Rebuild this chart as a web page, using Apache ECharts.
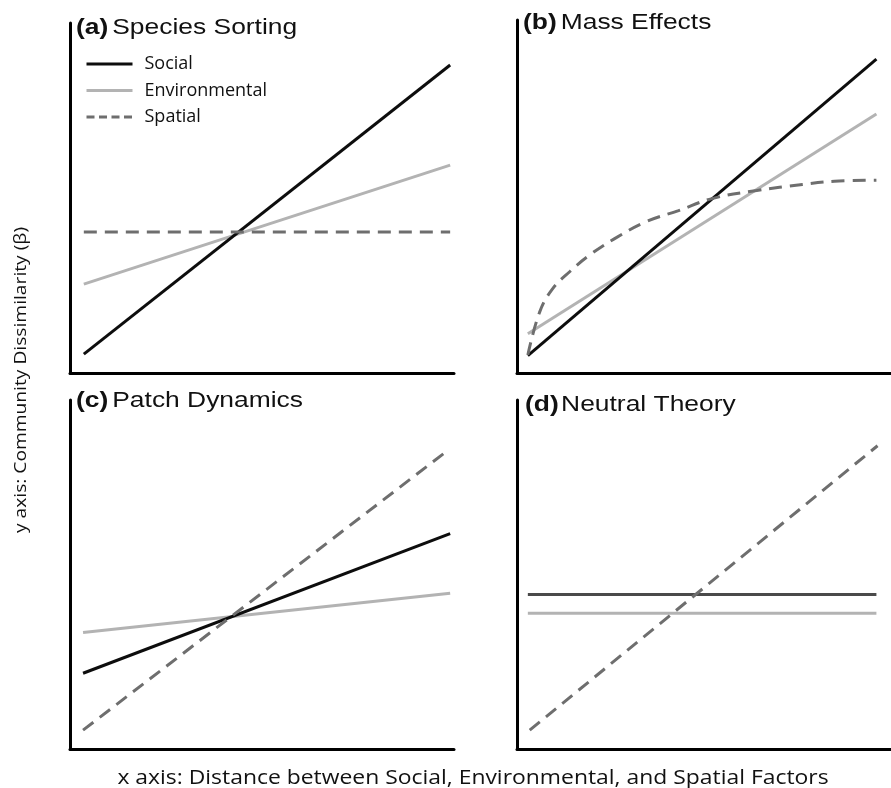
<!DOCTYPE html>
<html>
<head>
<meta charset="utf-8">
<script src="https://cdn.jsdelivr.net/npm/echarts@6/dist/echarts.min.js"></script>
<style>html,body{margin:0;padding:0;background:#fff;}#chart{width:891px;height:788px;}</style>
</head>
<body>
<div id="chart"></div>
<script>
// ---- data (x: distance, y: dissimilarity; both on a 0-10 conceptual scale) ----
const seriesNames = ['Social', 'Environmental', 'Spatial'];
const panelLabels = ['(a)', '(b)', '(c)', '(d)'];
const panelTitles = ['Species Sorting', 'Mass Effects', 'Patch Dynamics', 'Neutral Theory'];
const xAxisTitle = 'x axis: Distance between Social, Environmental, and Spatial Factors';
const yAxisTitle = 'y axis: Community Dissimilarity (\u03b2)';

const socialA = [[0.36, 0.54], [9.9, 8.8]];
const environmentalA = [[0.36, 2.54], [9.9, 5.94]];
const spatialA = [[0.36, 4.03], [9.9, 4.03]];

const socialB = [[0.29, 0.49], [9.61, 8.89]];
const environmentalB = [[0.29, 1.11], [9.61, 7.34]];
const spatialB = [[0.29, 0.51], [0.6, 1.71], [0.94, 2.37], [1.43, 2.89], [1.9, 3.31], [2.6, 3.8],
                  [3.46, 4.29], [4.32, 4.6], [5.21, 4.94], [6.41, 5.17], [7.63, 5.34], [8.49, 5.43], [9.61, 5.46]];

const socialC = [[0.34, 2.17], [9.9, 6.17]];
const environmentalC = [[0.34, 3.34], [9.9, 4.46]];
const spatialC = [[0.34, 0.54], [9.82, 8.54]];

const socialD = [[0.29, 4.43], [9.61, 4.43]];
const environmentalD = [[0.29, 3.89], [9.61, 3.89]];
const spatialD = [[0.34, 0.54], [9.64, 8.69]];

// ---- layout / style ----
const grids = [
  {left: 70, top: 23, width: 384, height: 350},
  {left: 517, top: 20, width: 384, height: 353},
  {left: 70, top: 400, width: 384, height: 349},
  {left: 517, top: 400, width: 384, height: 349}
];
const titlePos = [[76, 28], [523, 23], [76, 401], [525, 405]];
const cSocial = '#0d0d0d', cEnv = '#b3b3b3', cSpatial = '#6e6e6e';

const panels = [
  [socialA, environmentalA, spatialA, cSocial],
  [socialB, environmentalB, spatialB, cSocial],
  [socialC, environmentalC, spatialC, cSocial],
  [socialD, environmentalD, spatialD, '#4a4a4a']
];

const axisCommon = {
  type: 'value', min: 0, max: 10,
  axisLine: {show: true, onZero: false, lineStyle: {color: '#000', width: 3}},
  axisTick: {show: false}, axisLabel: {show: false}, splitLine: {show: false}
};

const series = [];
panels.forEach((p, i) => {
  series.push({name: seriesNames[0], type: 'line', xAxisIndex: i, yAxisIndex: i, data: p[0], symbol: 'none',
    lineStyle: {color: p[3], width: 3}, itemStyle: {color: cSocial}, z: 3});
  series.push({name: seriesNames[1], type: 'line', xAxisIndex: i, yAxisIndex: i, data: p[1], symbol: 'none',
    lineStyle: {color: cEnv, width: 3}, itemStyle: {color: cEnv}, z: 2});
  series.push({name: seriesNames[2], type: 'line', xAxisIndex: i, yAxisIndex: i, data: p[2], symbol: 'none',
    smooth: i === 1 ? 0.4 : false,
    lineStyle: {color: cSpatial, width: 3, type: [13, 8]}, itemStyle: {color: cSpatial}, z: 4});
});

const graphics = panelLabels.map((lab, i) => ({
  type: 'text', x: titlePos[i][0], y: titlePos[i][1], scaleX: 1.2,
  style: {
    text: '{b|' + lab + '}' + (i === 3 ? '' : ' ') + '{n|' + panelTitles[i] + '}',
    verticalAlign: 'middle', align: 'left', fill: '#111',
    rich: {
      b: {fontFamily: 'Liberation Sans', fontSize: 22, fontWeight: 'bold', fill: '#111'},
      n: {fontFamily: 'Liberation Sans', fontSize: 22, fill: '#111', padding: i === 3 ? [0, 0, 0, 2] : 0}
    }
  }
}));
graphics.push({
  type: 'text', x: 473, y: 778, scaleX: 1.145,
  style: {text: xAxisTitle, fontFamily: 'Open Sans', fontSize: 20, fill: '#111', align: 'center', verticalAlign: 'middle'}
});
graphics.push({
  type: 'text', x: 21, y: 380, rotation: Math.PI / 2, scaleX: 1.13,
  style: {text: yAxisTitle, fontFamily: 'Open Sans', fontSize: 17, fill: '#111', align: 'center', verticalAlign: 'middle'}
});

const chart = echarts.init(document.getElementById('chart'), null, {renderer: 'canvas'});
chart.setOption({
  animation: false,
  backgroundColor: '#fff',
  grid: grids.map(g => Object.assign({containLabel: false}, g)),
  xAxis: grids.map((g, i) => Object.assign({gridIndex: i}, axisCommon)),
  yAxis: grids.map((g, i) => Object.assign({gridIndex: i}, axisCommon)),
  legend: {
    data: [
      {name: seriesNames[0], lineStyle: {width: 3}},
      {name: seriesNames[1], lineStyle: {width: 3}},
      {name: seriesNames[2], lineStyle: {width: 3, type: [8, 4.5]}}
    ],
    orient: 'vertical', left: 80, top: 50,
    itemWidth: 46, itemHeight: 14, itemGap: 8.5,
    itemStyle: {opacity: 0},
    textStyle: {fontFamily: 'Open Sans', fontSize: 18, color: '#111', lineHeight: 18, padding: [0, 0, 0, 7]},
    selectedMode: false
  },
  series: series,
  graphic: graphics
});
</script>
</body>
</html>
